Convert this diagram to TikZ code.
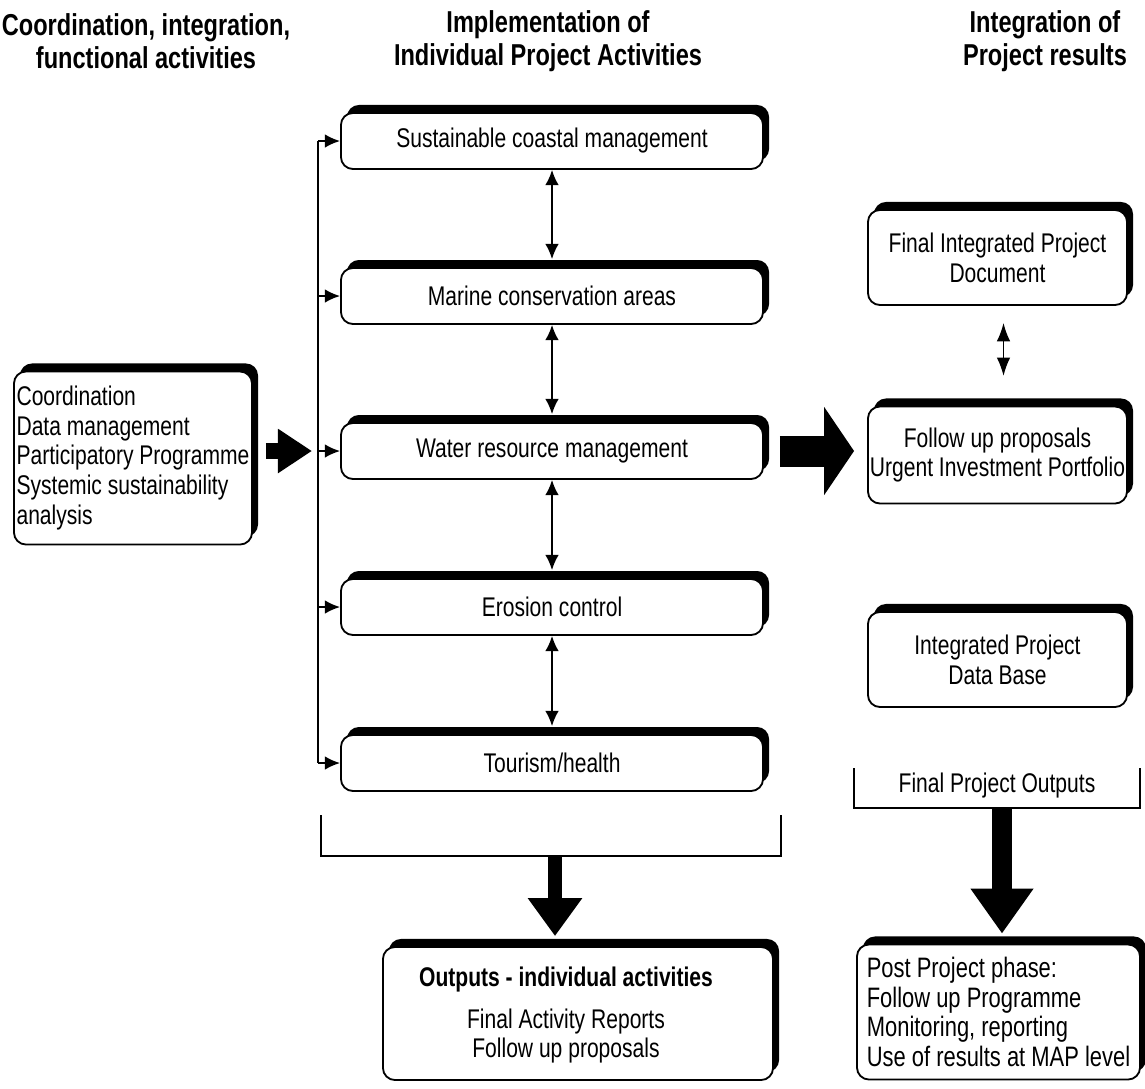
\documentclass[tikz,border=0pt]{standalone}
\usepackage{fontspec}
\setmainfont{Liberation Sans}[FakeStretch=0.78]
\usetikzlibrary{arrows.meta,positioning,shadows,calc}
\newcommand\boxfont{\fontsize{19.2}{21.3}\selectfont}
\newcommand\headfont{\fontsize{21.5}{23.4}\selectfont\bfseries}

\begin{document}
\begin{tikzpicture}[x=0.025cm,y=-0.025cm,
box/.style={draw=black,line width=1.3pt,fill=white,rounded corners=0.3cm,inner sep=0pt,align=center,font=\boxfont,drop shadow={shadow xshift=0.15cm,shadow yshift=0.2cm,fill=black,opacity=1}},
act/.style={box,minimum width=10.55cm,minimum height=1.4cm},
res/.style={box,minimum width=6.475cm,minimum height=2.375cm},
head/.style={font=\headfont,align=center},
ln/.style={line width=1.2pt},
fd/.style={ln,-{Latex[length=3.8mm,width=3.4mm]}},
dbl/.style={ln,{Latex[length=3.8mm,width=3.4mm]}-{Latex[length=3.8mm,width=3.4mm]}},
dbll/.style={ln,{Latex[length=4.6mm,width=3.4mm]}-{Latex[length=4.6mm,width=3.4mm]}}]
\useasboundingbox (0,0) rectangle (1145,1088);
% column titles
\node[head] (h1) at (146,41) {Coordination, integration,\\functional activities};
\node[head] (h2) at (548,41) {Implementation of\\Individual Project Activities};
\node[head] (h3) at (1045,41) {Integration of\\Project results};
% individual activities
\node[act] (scm) at (552,141) {Sustainable coastal management};
\node[act] (mca) at (552,296) {Marine conservation areas};
\node[act] (wrm) at (552,451) {Water resource management};
\node[act] (ero) at (552,607) {Erosion control};
\node[act] (tou) at (552,763) {Tourism/health};
\node[box,align=left,minimum width=5.95cm,minimum height=4.325cm] (coo) at (133,458) {Coordination\\Data management\\Participatory Programme\\Systemic sustainability\\analysis};
% results
\node[res] (fid) at (997.5,257.5) {Final Integrated Project\\Document};
\node[res,minimum height=2.425cm] (fup) at (997.5,455) {Follow up proposals\\Urgent Investment Portfolio};
\node[res] (idb) at (997.5,659.5) {Integrated Project\\Data Base};
\node[font=\boxfont] (fpo) at (997,786) {Final Project Outputs};
\node[box,minimum width=9.75cm,minimum height=3.325cm] (out) at (578,1013.5) {};
\node[font=\boxfont,align=center] (outt) at (566,1015) {\textbf{Outputs - individual activities}\\[0.3cm]Final Activity Reports\\Follow up proposals};
\node[box,align=left,minimum width=7.075cm,minimum height=3.375cm,font=\fontsize{20}{21}\selectfont] (ppp) at (998.5,1012) {Post Project phase:\\Follow up Programme\\Monitoring, reporting\\Use of results at MAP level};
% feeder line
\coordinate (fx) at (318,0);
\draw[ln] (scm.west -| fx) -- (tou.west -| fx);
\draw[fd] (scm.west -| fx) -- (scm.west); \draw[fd] (mca.west -| fx) -- (mca.west);
\draw[fd] (wrm.west -| fx) -- (wrm.west); \draw[fd] (ero.west -| fx) -- (ero.west);
\draw[fd] (tou.west -| fx) -- (tou.west);
\draw[dbl] (scm.south) -- ([yshift=0.2cm]mca.north); \draw[dbl] (mca.south) -- ([yshift=0.2cm]wrm.north);
\draw[dbl] (wrm.south) -- ([yshift=0.2cm]ero.north); \draw[dbl] (ero.south) -- ([yshift=0.2cm]tou.north);
\draw[dbll] ([xshift=0.15cm,yshift=-0.425cm]fid.south) -- ([xshift=0.15cm,yshift=0.74cm]fup.north);
% fat arrows
\draw[line width=0.4cm,-{Triangle[length=0.85cm,width=1.05cm]}] ($(coo.east |- wrm)+(0.325cm,0)$) -- ($(wrm.west -| fx)+(-0.15cm,0)$);
\draw[line width=0.775cm,-{Triangle[length=0.75cm,width=2.175cm]}] ($(wrm.east)+(0.4cm,0)$) -- ($(fup.west |- wrm)+(-0.325cm,0)$);
% brackets
\draw[ln,line width=1.4pt] (321,815) |- (781,856) -- (781,815);
\draw[ln,line width=1.4pt] (854,768) |- (1140,808) -- (1140,768);
\coordinate (bm) at (555,856); \coordinate (bf) at (1002,808);
\draw[line width=0.35cm,-{Triangle[length=0.95cm,width=1.3cm]}] (bm) -- ($(bm |- out.north)+(0,0.25cm)$);
\draw[line width=0.5cm,-{Triangle[length=1.125cm,width=1.5cm]}] (bf) -- ($(bf |- ppp.north)+(0,0.25cm)$);
\end{tikzpicture}
\end{document}
